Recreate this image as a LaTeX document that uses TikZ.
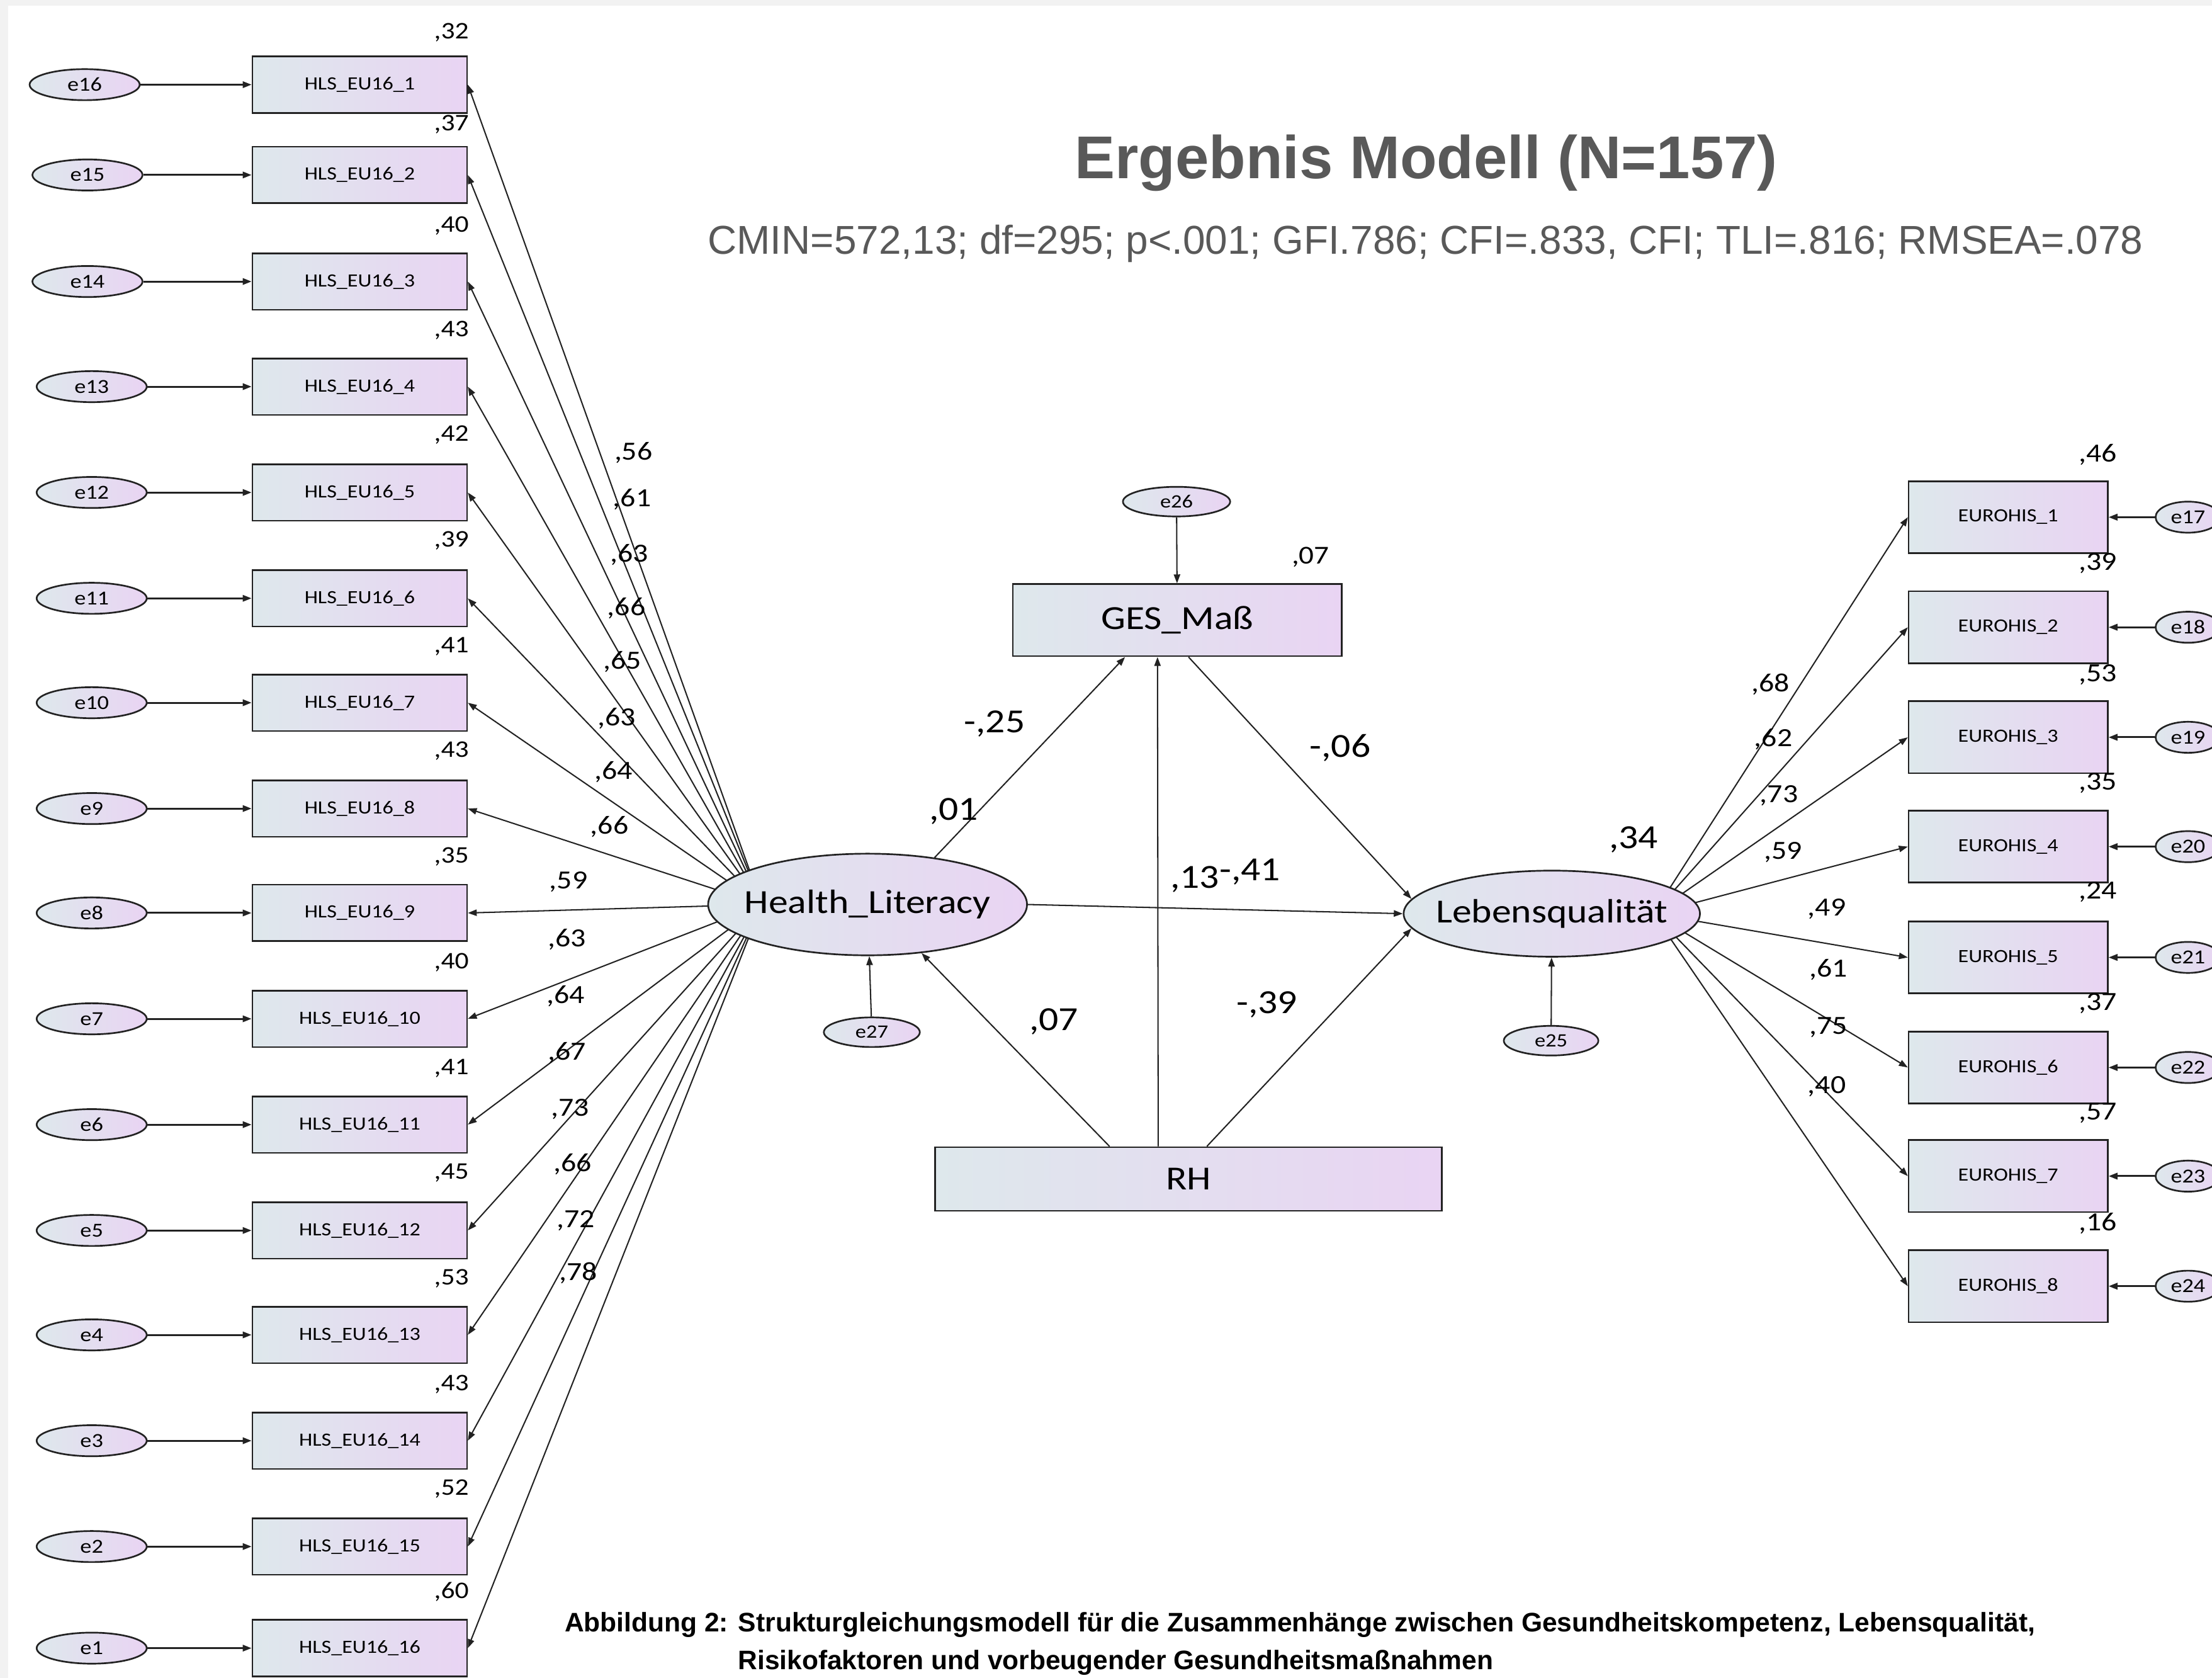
\documentclass[tikz,border=0pt]{standalone}
\usepackage{fontspec}
\usepackage{graphicx}
\setmainfont{Liberation Sans}
\newfontfamily\amos[FakeStretch=1.15]{Carlito}
\usetikzlibrary{shapes.geometric,arrows.meta,calc}
\definecolor{gl}{RGB}{222,232,236}
\definecolor{gr}{RGB}{233,212,243}
\definecolor{ttl}{RGB}{89,89,89}
\definecolor{bgg}{RGB}{242,242,242}
\definecolor{edge}{RGB}{34,34,34}
\tikzset{
  obs/.style={rectangle, draw=edge, line width=0.85pt, left color=gl, right color=gr, inner sep=0pt},
  lat/.style={ellipse, draw=edge, line width=0.85pt, left color=gl, right color=gr, inner sep=0pt},
  hls/.style={obs, minimum width=3.8cm, minimum height=1cm, font=\amos\fontsize{9.4}{11}\selectfont},
  euro/.style={obs, minimum width=3.525cm, minimum height=1.275cm, font=\amos\fontsize{9.4}{11}\selectfont},
  errL/.style={lat, minimum width=1.95cm, minimum height=0.55cm, font=\amos\fontsize{10}{12}\selectfont},
  errR/.style={lat, minimum width=1.15cm, minimum height=0.55cm, font=\amos\fontsize{10}{12}\selectfont},
  errS/.style={lat, minimum height=0.525cm, font=\amos\fontsize{9.5}{11}\selectfont},
  big/.style={font=\amos\fontsize{17}{20}\selectfont},
  arr/.style={draw=edge, line width=0.65pt, -{Triangle[length=4.5pt,width=3.2pt]}},
  earr/.style={arr, line width=0.95pt},
  lbl/.style={inner sep=0pt, font=\amos\fontsize{13.2}{15}\selectfont},
  lblS/.style={inner sep=0pt, font=\amos\fontsize{12}{14}\selectfont},
  lblB/.style={inner sep=0pt, font=\amos\fontsize{17}{20}\selectfont},
}
\begin{document}
\begin{tikzpicture}[x=0.025cm,y=-0.025cm]
\useasboundingbox (0,0) rectangle (1568,1189);
\clip (0,0) rectangle (1568,1189);
\fill[bgg] (0,0) rectangle (1568,1189);
\fill[white] (6,4) rectangle (1568,1189);
% title and fit line
\node[anchor=base, inner sep=0pt, text=ttl] (title) at (1011,126.3) {\resizebox{12.45cm}{!}{\fontsize{30}{36}\selectfont\bfseries Ergebnis Modell (N=157)}};
\node[anchor=base, inner sep=0pt, text=ttl] (fit) at (1010.5,180) {\resizebox{25.425cm}{!}{\fontsize{19.3}{23}\selectfont CMIN=572,13; df=295; p<.001; GFI.786; CFI=.833, CFI; TLI=.816; RMSEA=.078}};
% HLS indicators
\foreach \k/\yy in {1/60,2/124,3/199.5,4/274,5/349,6/424,7/498,8/573,9/647,10/722,11/797,12/872,13/946,14/1021,15/1096,16/1168}
  {\node[hls] (h\k) at (255,\yy) {HLS\_EU16\_\k};}
\foreach \k/\xx/\yy in {1/60/60,2/62/124,3/62/199.5,4/65/274,5/65/349,6/65/424,7/65/498,8/65/573,9/65/647,10/65/722,11/65/797,12/65/872,13/65/946,14/65/1021,15/65/1096,16/65/1168}
  {\pgfmathtruncatemacro{\en}{17-\k}
   \node[errL] (el\k) at (\xx,\yy) {e\en};
   \draw[earr] (el\k) -- (h\k);}
\foreach \yy/\v [count=\i] in {23/32,88/37,160/40,234/43,308/42,383/39,458/41,532/43,607/35,682/40,757/41,831/45,906/53,981/43,1055/52,1128/60}
  {\node[lblS] (r2h\i) at (320,\yy) {,\v};}
% loadings Health_Literacy
\coordinate (hlhub) at (540,641);
\foreach \k in {1,...,16} {\draw[arr] (hlhub) -- (h\k.east);}
\foreach \xx/\yy/\v [count=\i] in {449/321/56,448/354/61,446/393/63,444/431/66,441/469/65,437/509/63,435/547/64,432/586/66,403/625/59,402/666/63,401/706/64,402/746/67,404/786/73,406/825/66,408/865/72,410/902/78}
  {\node[lbl] (lh\i) at (\xx,\yy) {,\v};}
\node[lat, minimum width=5.65cm, minimum height=1.8cm, big] (HL) at (615,641) {\makebox[0pt]{Health\_Literacy}};
% EUROHIS indicators
\foreach \k/\yy in {1/366.5,2/444.5,3/522.5,4/600,5/678.5,6/756.5,7/833.5,8/911.5}
  {\node[euro] (u\k) at (1423.5,\yy) {EUROHIS\_\k};
   \pgfmathtruncatemacro{\en}{16+\k}
   \node[errR] (er\k) at (1551,\yy) {e\en};
   \draw[earr] (er\k) -- (u\k);}
\coordinate (lqhub) at (1172,647.5);
\foreach \k in {1,...,8} {\draw[arr] (lqhub) -- (u\k.west);}
\node[lat, minimum width=5.25cm, minimum height=1.525cm, big] (LQ) at (1100,647.5) {\makebox[0pt]{Lebensqualität}};
\foreach \yy/\v [count=\i] in {322/46,399/39,478/53,555/35,632/24,711/37,789/57,867/16}
  {\node[lbl] (r2u\i) at (1487,\yy) {,\v};}
\foreach \xx/\yy/\v [count=\i] in {1255/485/68,1257/524/62,1261/564/73,1264/604/59,1295/644/49,1296/687/61,1296/728/75,1295/770/40}
  {\node[lbl] (lu\i) at (\xx,\yy) {,\v};}
% central part
\node[errS, minimum width=1.9cm] (e26) at (834,355.5) {e26};
\node[obs, minimum width=5.825cm, minimum height=1.275cm, big] (GES) at (834.5,439.5) {GES\_Maß};
\node[obs, minimum width=8.975cm, minimum height=1.125cm, big] (RH) at (842.5,835.5) {RH};
\node[errS, minimum width=1.7cm] (e27) at (618,731.5) {e27};
\node[errS, minimum width=1.675cm] (e25) at (1099.5,737.5) {e25};
\draw[arr] (e26) -- (GES);
\draw[arr] (HL.35) -- ($(GES.south)+(-37,0)$);
\draw[arr] ($(RH.north)+(-21.5,0)$) -- ($(GES.south)+(-14,0)$);
\draw[arr] ($(GES.south)+(8,0)$) -- (LQ.174);
\draw[arr] (HL.east) -- (LQ.west);
\draw[arr] ($(RH.north)+(-56,0)$) -- (HL.318);
\draw[arr] ($(RH.north)+(13,0)$) -- (LQ.186);
\draw[arr] (e27) -- (HL);
\draw[arr] (e25) -- (LQ);
\node[lblB] (c1) at (705,513) {-,25};
\node[lblB] (c2) at (676,575) {,01};
\node[lblB] (c3) at (950,530) {-,06};
\node[inner sep=0pt, font=\amos\fontsize{13}{15}\selectfont] (c4) at (929,395) {,07};
\node[lblB] (c5) at (847,623) {,13};
\node[lblB] (c6) at (886,618) {-,41};
\node[lblB] (c7) at (747,724) {,07};
\node[lblB] (c8) at (898,712) {-,39};
\node[lblB] (c9) at (1158,595) {,34};
% caption
\node[anchor=base west, inner sep=0pt] (cap1) at (400,1156.5) {\resizebox{26.05cm}{!}{\fontsize{12}{14}\selectfont\bfseries Abbildung 2: Strukturgleichungsmodell für die Zusammenhänge zwischen Gesundheitskompetenz, Lebensqualität,}};
\node[anchor=base west, inner sep=0pt] (cap2) at (523,1183) {\resizebox{13.375cm}{!}{\fontsize{12}{14}\selectfont\bfseries Risikofaktoren und vorbeugender Gesundheitsmaßnahmen}};
\end{tikzpicture}
\end{document}
